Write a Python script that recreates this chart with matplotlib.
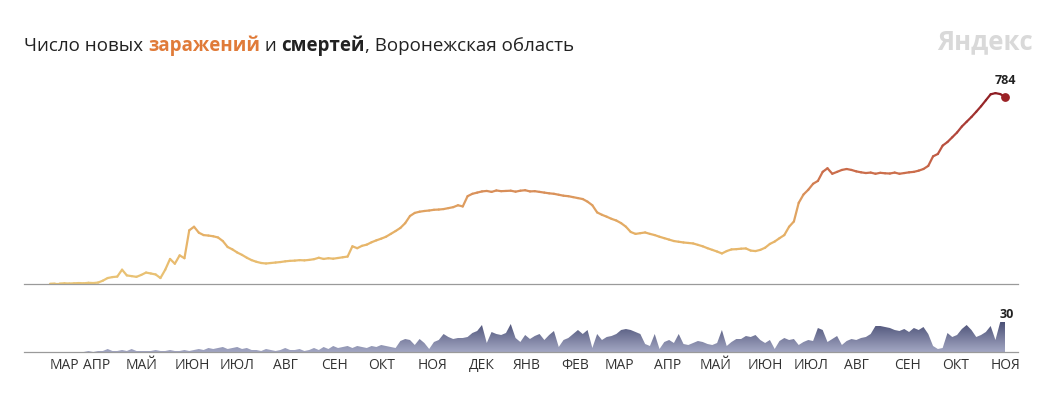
import numpy as np
import matplotlib.pyplot as plt
from matplotlib.collections import LineCollection
from matplotlib.colors import LinearSegmentedColormap, Normalize

plt.rcParams['font.family'] = ['Open Sans', 'DejaVu Sans']

# one value every 3 days, early March 2020 -> early November 2021
STEP = 3
cases = [
    1, 2, 2, 3, 2, 3, 4, 3, 5, 4, 6,
    14, 25, 29, 31, 60, 36, 33, 30, 38, 48,
    44, 40, 25, 60, 105, 85, 120, 108, 225, 240,
    215, 205, 203, 200, 195, 180, 155, 145, 132, 122,
    110, 100, 93, 88, 86, 88, 90, 92, 95, 97,
    98, 100, 99, 101, 104, 110, 105, 108, 106, 109,
    112, 115, 158, 150, 160, 165, 175, 183, 190, 198,
    210, 222, 235, 255, 285, 298, 303, 306, 308, 311,
    312, 314, 318, 322, 330, 325, 368, 378, 383, 388,
    390, 386, 392, 389, 390, 391, 387, 391, 393, 388,
    389, 386, 383, 380, 378, 374, 370, 368, 364, 360,
    356, 345, 330, 300, 290, 282, 273, 266, 255, 240,
    218, 210, 213, 216, 210, 205, 198, 192, 186, 180,
    177, 174, 172, 170, 164, 158, 150, 143, 136, 128,
    138, 145, 146, 148, 149, 140, 138, 143, 152, 168,
    178, 192, 205, 240, 262, 340, 375, 395, 420, 432,
    470, 485, 462, 470, 478, 482, 478, 472, 468, 465,
    467, 462, 466, 464, 463, 467, 462, 465, 468, 470,
    475, 482, 495, 535, 545, 580, 595, 615, 635, 660,
    680, 700, 722, 745, 770, 795, 800, 796, 784,
]
deaths = [
    0, 0, 0, 0, 0, 0, 0, 0, 1, 0, 1,
    1, 3, 1, 1, 2, 1, 3, 1, 1, 1,
    1, 2, 1, 1, 2, 1, 1, 2, 1, 2,
    3, 2, 4, 3, 4, 5, 3, 4, 5, 3,
    4, 2, 2, 1, 3, 2, 1, 2, 4, 2,
    2, 3, 1, 2, 4, 2, 5, 3, 6, 4,
    5, 6, 4, 6, 5, 4, 6, 5, 7, 6,
    5, 4, 11, 13, 12, 7, 13, 9, 3, 10,
    12, 18, 15, 13, 14, 14, 15, 19, 21, 27,
    9, 20, 18, 17, 19, 28, 14, 10, 17, 13,
    16, 18, 12, 17, 21, 5, 12, 14, 18, 22,
    18, 22, 4, 18, 12, 15, 16, 18, 22, 23,
    22, 20, 18, 8, 6, 18, 3, 10, 12, 9,
    18, 8, 7, 9, 11, 10, 8, 7, 9, 22,
    6, 10, 13, 13, 16, 15, 17, 12, 9, 12,
    3, 11, 14, 12, 13, 7, 10, 12, 11, 24,
    22, 10, 13, 16, 7, 11, 13, 12, 14, 15,
    18, 26, 26, 25, 24, 22, 21, 23, 20, 24,
    22, 25, 18, 6, 3, 4, 19, 15, 17, 23,
    27, 22, 15, 17, 20, 26, 12, 30, 30,
]
month_labels = ['МАР', 'АПР', 'МАЙ', 'ИЮН', 'ИЮЛ', 'АВГ', 'СЕН', 'ОКТ', 'НОЯ', 'ДЕК', 'ЯНВ',
                'ФЕВ', 'МАР', 'АПР', 'МАЙ', 'ИЮН', 'ИЮЛ', 'АВГ', 'СЕН', 'ОКТ', 'НОЯ']
month_days = [9, 29, 57, 89, 117, 147, 178, 207, 239, 270, 298,
              328, 356, 386, 416, 447, 476, 504, 536, 566, 597]

days = np.arange(len(cases)) * STEP
cases = np.array(cases, dtype=float)
deaths = np.array(deaths, dtype=float)

W, H = 1058, 396
fig = plt.figure(figsize=(W / 100, H / 100), dpi=100, facecolor='white')
xlim = (-16.3, 605.1)

# --- infections ---
ax1 = fig.add_axes([24 / W, 112 / H, 994 / W, 199 / H])
cmap = LinearSegmentedColormap.from_list('cases', [
    (0.0, '#eac577'), (0.25, '#e6b267'), (0.45, '#dd9a5e'),
    (0.58, '#cc6f4c'), (0.8, '#b2453b'), (1.0, '#8e1d23')])
pts = np.column_stack([days, cases]).reshape(-1, 1, 2)
segs = np.concatenate([pts[:-1], pts[1:]], axis=1)
lc = LineCollection(segs, cmap=cmap, norm=Normalize(0, 800), linewidth=1.6, capstyle='round', joinstyle='round')
lc.set_array((cases[:-1] + cases[1:]) / 2)
ax1.add_collection(lc)
ax1.scatter(days[-1], cases[-1], s=28, color='#9b2226', zorder=3)
ax1.annotate(f'{int(cases[-1])}', (days[-1], cases[-1]), xytext=(0, 7), textcoords='offset points',
             ha='center', va='bottom', fontsize=9, fontweight='bold', color='#222222')
ax1.set_xlim(*xlim)
ax1.set_ylim(0, 834)
ax1.set_xticks([])
ax1.set_yticks([])
for s in ['top', 'left', 'right']:
    ax1.spines[s].set_visible(False)
ax1.spines['bottom'].set_color('#9a9a9a')
ax1.spines['bottom'].set_linewidth(0.9)

# --- deaths ---
ax2 = fig.add_axes([24 / W, 44 / H, 994 / W, 40 / H])
poly = ax2.fill_between(days, deaths, 0, color='none', lw=0)
grad = np.linspace(0, 1, 256).reshape(-1, 1)
dmap = LinearSegmentedColormap.from_list('deaths', ['#a3a7c3', '#4b5076'])
im = ax2.imshow(grad, extent=[days[0], days[-1], 0, 30], origin='lower', aspect='auto', cmap=dmap)
im.set_clip_path(poly.get_paths()[0], transform=ax2.transData)
ax2.annotate(f'{int(deaths[-1])}', (days[-1], deaths[-1]), xytext=(1, 1), textcoords='offset points',
             ha='center', va='bottom', fontsize=9, fontweight='bold', color='#222222')
ax2.set_xlim(*xlim)
ax2.set_ylim(0, 40)
ax2.set_yticks([])
ax2.set_xticks(month_days)
ax2.set_xticklabels(month_labels, fontsize=10, color='#333333')
ax2.tick_params(axis='x', length=0, pad=4)
for s in ['top', 'left', 'right']:
    ax2.spines[s].set_visible(False)
ax2.spines['bottom'].set_color('#9a9a9a')
ax2.spines['bottom'].set_linewidth(0.9)

# --- title in pieces ---
parts = [('Число новых ', '#222222', 'normal'),
         ('заражений', '#e07b39', 'bold'),
         (' и ', '#222222', 'normal'),
         ('смертей', '#222222', 'bold'),
         (', Воронежская область', '#222222', 'normal')]
fig.canvas.draw()
r = fig.canvas.get_renderer()
x = 24
for s, c, w in parts:
    t = fig.text(x / W, 1 - 51 / H, s, color=c, fontweight=w, fontsize=13.5, va='baseline')
    x = t.get_window_extent(renderer=r).x1

fig.text(1033 / W, 1 - 42 / H, 'Яндекс', color='#d9d9d9', fontsize=18.5, fontweight='bold',
         ha='right', va='center')

fig.savefig('out.png', dpi=100, facecolor='white')
